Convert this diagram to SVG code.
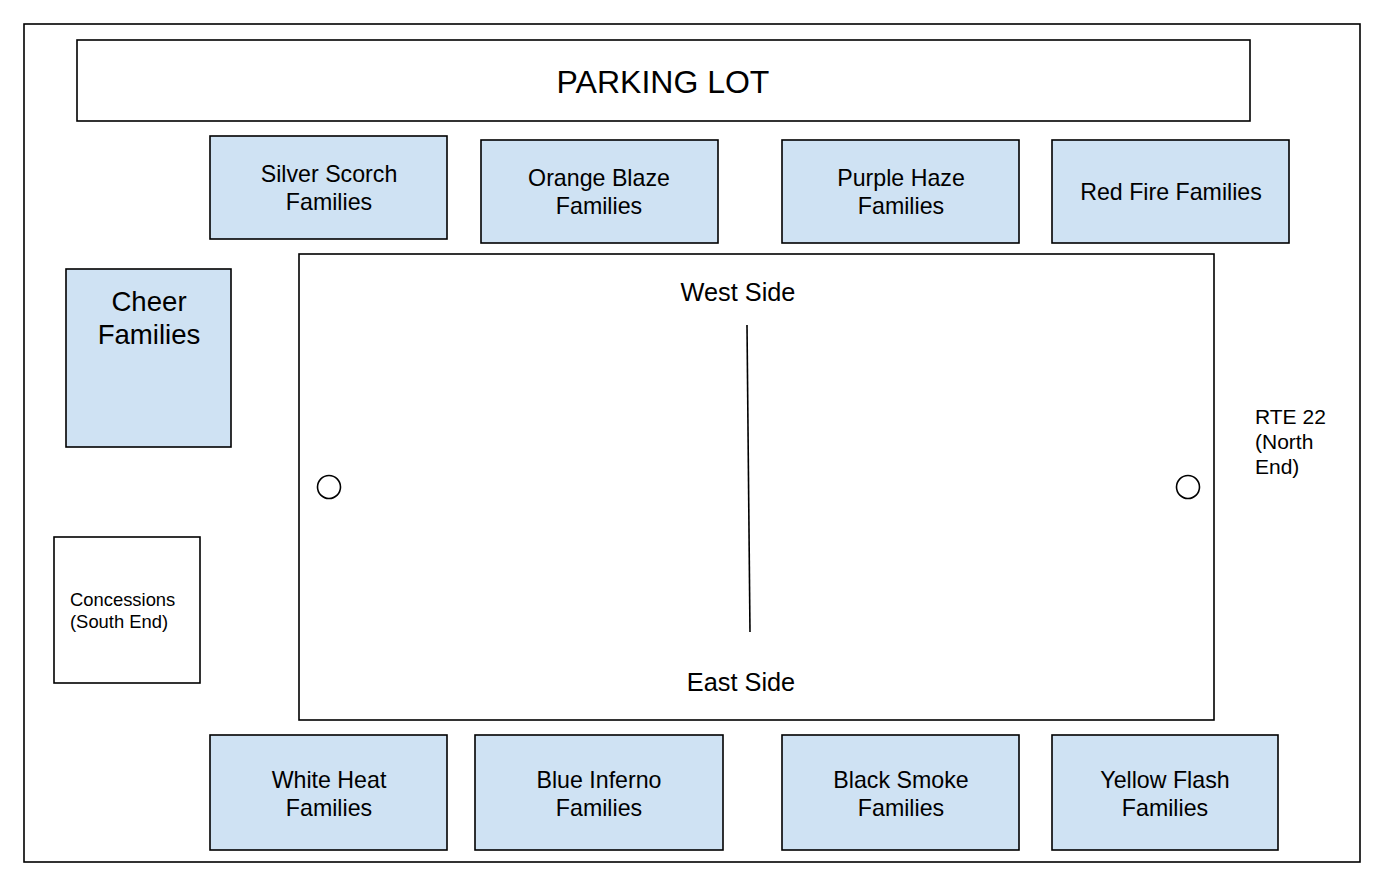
<svg xmlns="http://www.w3.org/2000/svg" width="1388" height="892" viewBox="0 0 1388 892">
<style>
.b{fill:#ffffff;stroke:#000;stroke-width:1.6}
.n{fill:#cfe2f3;stroke:#000;stroke-width:1.6}
text{font-family:"Liberation Sans",Arial,sans-serif;fill:#000}
.t{font-size:23.2px;text-anchor:middle}
</style>
<rect width="1388" height="892" fill="#fff"/>
<rect class="b" x="24" y="24" width="1336" height="838"/>
<g id="parking"><rect class="b" x="77" y="40" width="1173" height="81"/><text x="663" y="93" font-size="32" text-anchor="middle">PARKING LOT</text></g>
<g id="silver"><rect class="n" x="210" y="136" width="237" height="103"/><text class="t" x="329" y="182">Silver Scorch</text><text class="t" x="329" y="210">Families</text></g>
<g id="orange"><rect class="n" x="481" y="140" width="237" height="103"/><text class="t" x="599" y="186">Orange Blaze</text><text class="t" x="599" y="214">Families</text></g>
<g id="purple"><rect class="n" x="782" y="140" width="237" height="103"/><text class="t" x="901" y="186">Purple Haze</text><text class="t" x="901" y="214">Families</text></g>
<g id="red"><rect class="n" x="1052" y="140" width="237" height="103"/><text class="t" x="1171" y="200">Red Fire Families</text></g>
<g id="cheer"><rect class="n" x="66" y="269" width="165" height="178"/><text x="149" y="311" font-size="27.6" text-anchor="middle">Cheer</text><text x="149" y="344" font-size="27.6" text-anchor="middle">Families</text></g>
<g id="field"><rect class="b" x="299" y="254" width="915" height="466"/>
<text x="738" y="301" font-size="25.3" text-anchor="middle">West Side</text>
<text x="741" y="691" font-size="25.3" text-anchor="middle">East Side</text>
<circle cx="329" cy="487" r="11.5" fill="#fff" stroke="#000" stroke-width="1.6"/>
<circle cx="1188" cy="487" r="11.5" fill="#fff" stroke="#000" stroke-width="1.6"/>
</g>
<g id="connectors"><line x1="747" y1="325" x2="750" y2="632" stroke="#000" stroke-width="1.6"/></g>
<g id="rte"><text x="1255" y="424" font-size="21">RTE 22</text><text x="1255" y="449" font-size="21">(North</text><text x="1255" y="474" font-size="21">End)</text></g>
<g id="concessions"><rect class="b" x="54" y="537" width="146" height="146"/><text x="70" y="606" font-size="18.4">Concessions</text><text x="70" y="628" font-size="18.4">(South End)</text></g>
<g id="white"><rect class="n" x="210" y="735" width="237" height="115"/><text class="t" x="329" y="788">White Heat</text><text class="t" x="329" y="816">Families</text></g>
<g id="blue"><rect class="n" x="475" y="735" width="248" height="115"/><text class="t" x="599" y="788">Blue Inferno</text><text class="t" x="599" y="816">Families</text></g>
<g id="black"><rect class="n" x="782" y="735" width="237" height="115"/><text class="t" x="901" y="788">Black Smoke</text><text class="t" x="901" y="816">Families</text></g>
<g id="yellow"><rect class="n" x="1052" y="735" width="226" height="115"/><text class="t" x="1165" y="788">Yellow Flash</text><text class="t" x="1165" y="816">Families</text></g>
</svg>
